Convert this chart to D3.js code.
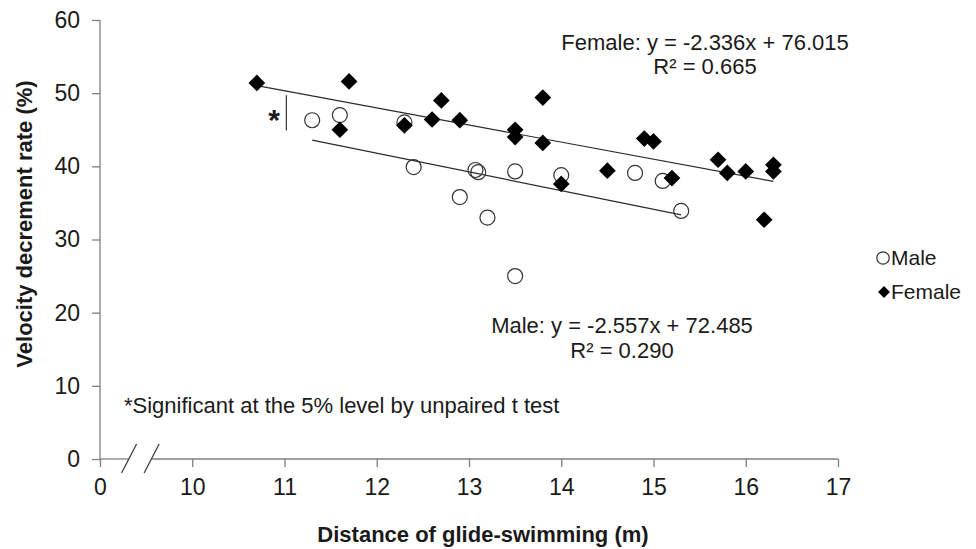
<!DOCTYPE html>
<html>
<head>
<meta charset="utf-8">
<script src="https://cdn.jsdelivr.net/npm/d3@7"></script>
<style>
  html, body { margin: 0; padding: 0; background: #fff; }
  svg { display: block; font-family: "Liberation Sans", Arial, sans-serif; }
</style>
</head>
<body>
<svg id="chart" width="976" height="549"></svg>
<script>
// ---- data ----
const maleX = [11.3, 11.6, 12.3, 12.4, 12.9, 13.07, 13.1, 13.2, 13.5, 13.5, 14.0, 14.8, 15.1, 15.3];
const maleY = [46.3, 47.0, 46.0, 39.9, 35.8, 39.5, 39.2, 33.0, 39.3, 25.0, 38.8, 39.1, 38.0, 33.9];

const femaleX = [10.7, 11.6, 11.7, 12.3, 12.6, 12.7, 12.9, 13.5, 13.5, 13.8, 13.8, 14.0, 14.5, 14.9, 15.0, 15.2, 15.7, 15.8, 16.0, 16.2, 16.3, 16.3];
const femaleY = [51.4, 45.0, 51.6, 45.6, 46.4, 49.0, 46.3, 45.0, 44.0, 49.4, 43.2, 37.6, 39.4, 43.8, 43.4, 38.4, 40.9, 39.1, 39.3, 32.7, 40.2, 39.3];

// trend line coefficients [slope, intercept]
const maleFit = [-2.557, 72.485];
const femaleFit = [-2.336, 76.015];

const xTickValues = [9, 10, 11, 12, 13, 14, 15, 16, 17];
const xTickLabels = ["0", "10", "11", "12", "13", "14", "15", "16", "17"];
const yTickValues = [0, 10, 20, 30, 40, 50, 60];

// ---- layout ----
const svg = d3.select("#chart");
const x = d3.scaleLinear().domain([9, 17]).range([100, 838]);
const y = d3.scaleLinear().domain([0, 60]).range([459, 20]);
const axisColor = "#7f7f7f";
const textColor = "#1a1a1a";

// y axis
const yAxis = svg.append("g").attr("transform", "translate(100,0)")
  .call(d3.axisLeft(y).tickValues(yTickValues).tickSize(8).tickPadding(12).tickFormat(d3.format("d")));
yAxis.select(".domain").attr("stroke", axisColor).attr("stroke-width", 1.3).attr("d", "M0,20V459");
yAxis.selectAll(".tick line").attr("stroke", axisColor).attr("stroke-width", 1.3);
yAxis.selectAll(".tick text").attr("fill", textColor).style("font-size", "23px")
  .style("font-family", "'Liberation Sans', Arial, sans-serif");

// x axis
const xAxis = svg.append("g").attr("transform", "translate(0,459)")
  .call(d3.axisBottom(x).tickValues(xTickValues).tickSize(8).tickPadding(12)
    .tickFormat((d, i) => xTickLabels[i]));
xAxis.select(".domain").remove();
xAxis.selectAll(".tick line").attr("stroke", axisColor).attr("stroke-width", 1.3);
xAxis.selectAll(".tick text").attr("fill", textColor).style("font-size", "23px")
  .style("font-family", "'Liberation Sans', Arial, sans-serif");

// broken x-axis line
const brk1 = x(9.315), brk2 = x(9.56);
svg.append("line").attr("x1", x(9)).attr("x2", brk1).attr("y1", 459).attr("y2", 459)
  .attr("stroke", axisColor).attr("stroke-width", 1.3);
svg.append("line").attr("x1", brk2).attr("x2", x(17)).attr("y1", 459).attr("y2", 459)
  .attr("stroke", axisColor).attr("stroke-width", 1.3);
[brk1, brk2].forEach(bx => {
  svg.append("line").attr("x1", bx - 7.5).attr("y1", 473).attr("x2", bx + 7.5).attr("y2", 444)
    .attr("stroke", "#404040").attr("stroke-width", 1.3);
});

// trend lines
function trend(xs, fit) {
  const x0 = d3.min(xs), x1 = d3.max(xs);
  svg.append("line")
    .attr("x1", x(x0)).attr("y1", y(fit[0] * x0 + fit[1]))
    .attr("x2", x(x1)).attr("y2", y(fit[0] * x1 + fit[1]))
    .attr("stroke", "#2b2b2b").attr("stroke-width", 1.2);
}
trend(femaleX, femaleFit);
trend(maleX, maleFit);

// male circles
svg.append("g").selectAll("circle").data(maleX.map((d, i) => [d, maleY[i]])).join("circle")
  .attr("cx", d => x(d[0])).attr("cy", d => y(d[1])).attr("r", 7.5)
  .attr("fill", "none").attr("stroke", "#333").attr("stroke-width", 1.2);

// female diamonds
const diamond = d3.symbol().type(d3.symbolSquare).size(140);
svg.append("g").selectAll("path").data(femaleX.map((d, i) => [d, femaleY[i]])).join("path")
  .attr("d", diamond)
  .attr("transform", d => `translate(${x(d[0])},${y(d[1])}) rotate(45)`)
  .attr("fill", "#000");

// significance marker
svg.append("line").attr("x1", x(11.02)).attr("x2", x(11.02)).attr("y1", y(49.7)).attr("y2", y(44.9))
  .attr("stroke", "#333").attr("stroke-width", 1.2);
svg.append("text").attr("x", 274).attr("y", 130).attr("text-anchor", "middle")
  .attr("fill", textColor).style("font-size", "30px").style("font-weight", "bold").text("*");

// annotations
function txt(tx, ty, s, anchor, size) {
  svg.append("text").attr("x", tx).attr("y", ty).attr("text-anchor", anchor || "start")
    .attr("fill", textColor).style("font-size", (size || 22) + "px").text(s);
}
txt(705, 50, "Female: y = -2.336x + 76.015", "middle");
txt(705, 74, "R² = 0.665", "middle");
txt(622, 333, "Male: y = -2.557x + 72.485", "middle");
txt(622, 358, "R² = 0.290", "middle");
txt(124, 413, "*Significant at the 5% level by unpaired t test", "start");

// axis titles
svg.append("text").attr("x", 483).attr("y", 542).attr("text-anchor", "middle")
  .attr("fill", textColor).style("font-size", "22px").style("font-weight", "bold")
  .text("Distance of glide-swimming (m)");
svg.append("text").attr("transform", "translate(32,224) rotate(-90)").attr("text-anchor", "middle")
  .attr("fill", textColor).style("font-size", "22px").style("font-weight", "bold")
  .text("Velocity decrement rate (%)");

// legend
const lg = svg.append("g");
lg.append("circle").attr("cx", 883).attr("cy", 258).attr("r", 6.2)
  .attr("fill", "none").attr("stroke", "#333").attr("stroke-width", 1.2);
lg.append("text").attr("x", 891).attr("y", 265).attr("fill", textColor).style("font-size", "21px").text("Male");
lg.append("path").attr("d", d3.symbol().type(d3.symbolSquare).size(70)())
  .attr("transform", "translate(884,292) rotate(45)").attr("fill", "#000");
lg.append("text").attr("x", 891).attr("y", 299).attr("fill", textColor).style("font-size", "21px").text("Female");
</script>
</body>
</html>
